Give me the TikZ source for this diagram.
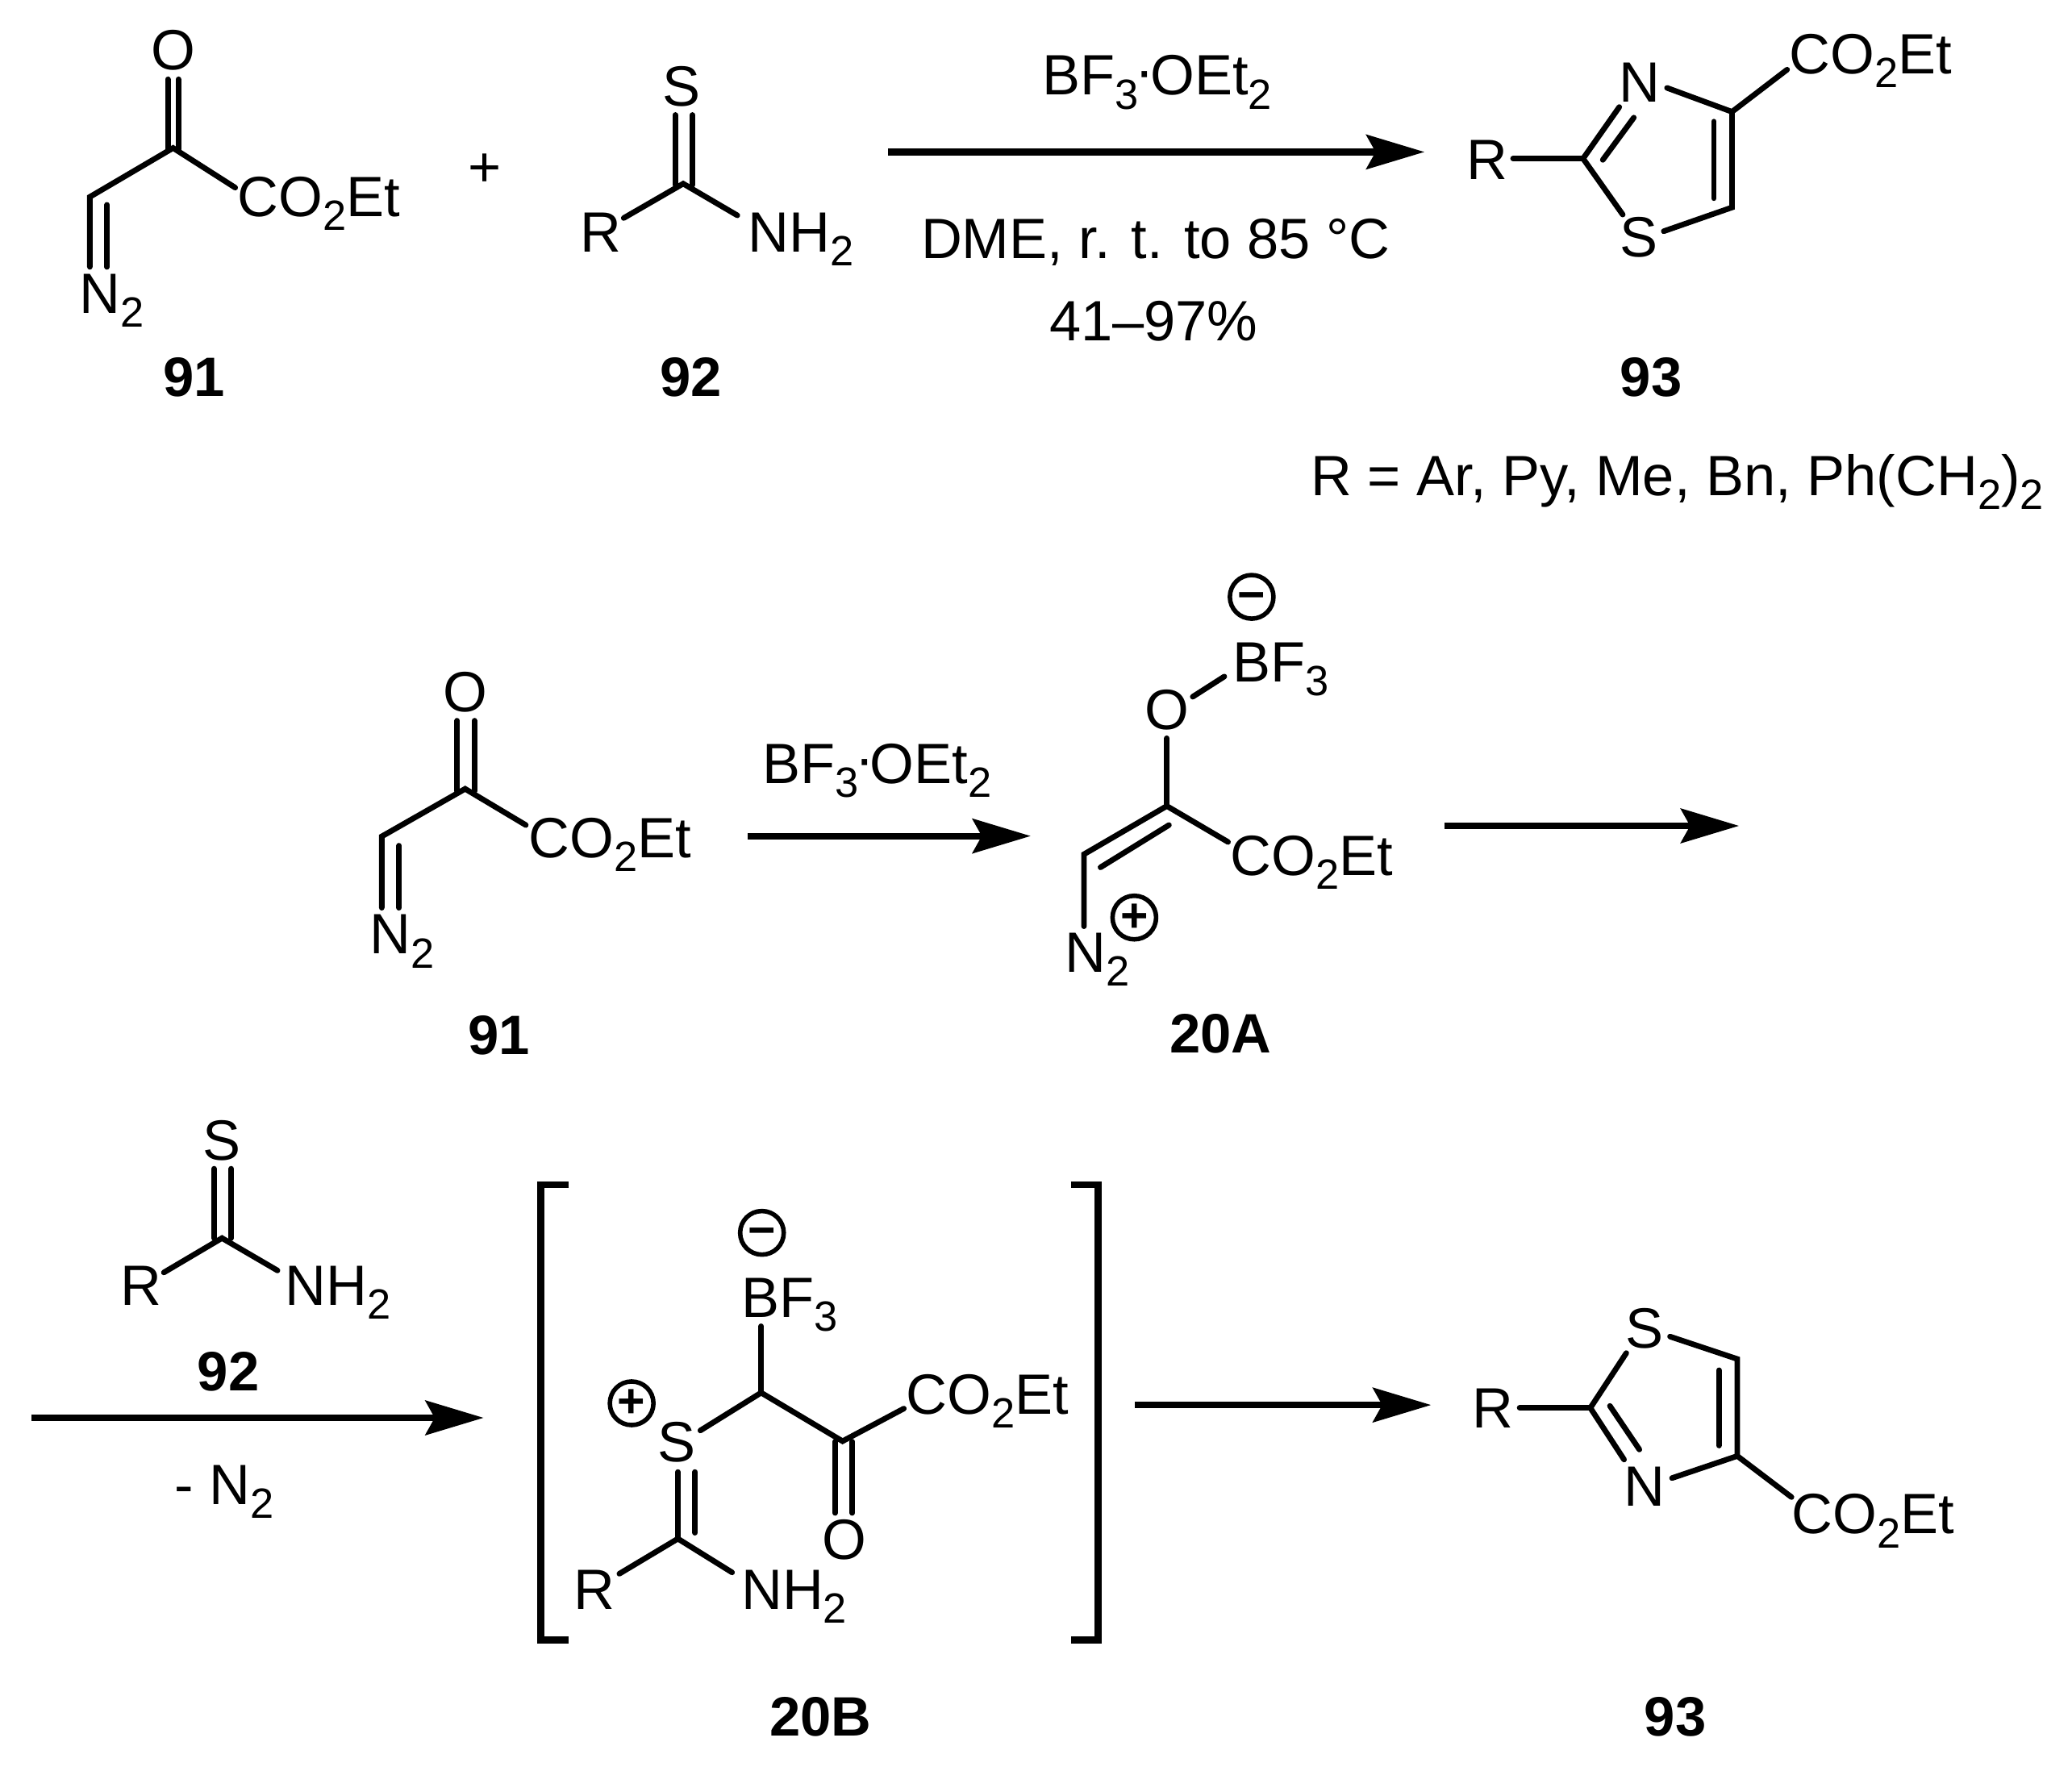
\documentclass[tikz,border=0pt]{standalone}
\usepackage{fontspec}
\setmainfont{Liberation Sans}
\usetikzlibrary{arrows.meta}
\newcommand{\sbs}[1]{\raisebox{-10.5pt}{\fontsize{32}{32}\selectfont #1}}
\newcommand{\COEt}{CO\sbs{2}Et}
\newcommand{\BFO}{BF\sbs{3}\hspace{-2.5pt}\raisebox{4pt}{·}\hspace{-3pt}OEt\sbs{2}}
\tikzset{
  txt/.style={inner sep=0pt,outer sep=0pt,anchor=base west,font=\fontsize{43}{50}\selectfont},
  ctxt/.style={inner sep=0pt,outer sep=0pt,anchor=base,font=\fontsize{43}{50}\selectfont},
  lbl/.style={inner sep=0pt,outer sep=0pt,anchor=base,font=\fontsize{42}{50}\selectfont\bfseries},
  bond/.style={line width=4.2pt,line cap=round,line join=miter},
  bracket/.style={line width=5.4pt,line cap=butt,line join=miter},
  rxn/.style={line width=5pt,-{Stealth[length=44pt,width=26pt,inset=7pt]}},
  charge/.style={circle,draw,line width=3.4pt,minimum size=33pt,inner sep=0pt,outer sep=0pt,font=\fontsize{36}{36}\selectfont\bfseries}
}
\begin{document}
\begin{tikzpicture}[x=1pt,y=-1pt]
\useasboundingbox (0,0) rectangle (1568,1336.7);

% --- top reaction: 91
\node[ctxt] (t91O) at (131,53) {O};
\node[txt] (t91E) at (180,164) {\COEt};
\node[txt] (t91N) at (60,237) {N\sbs{2}};
\node[lbl] (t91L) at (147,300) {91};
\draw[bond] (127,60) -- (127,113) (135,60) -- (135,113);
\draw[bond] (178,142) -- (131,112) -- (68,149) -- (68,202);
\draw[bond] (81,155) -- (81,202);
\node[ctxt] (plus) at (367,141) {+};

% 92
\node[ctxt] (t92S) at (516,80) {S};
\node[txt] (t92R) at (439,190.5) {R};
\node[txt] (t92N) at (566,190.5) {NH\sbs{2}};
\node[lbl] (t92L) at (523,300) {92};
\draw[bond] (511,87) -- (511,140) (524,87) -- (524,140);
\draw[bond] (472,165) -- (517,139) -- (558,163);

% arrow 1
\coordinate (a1s) at (672,115);
\coordinate (a1e) at (1078,115);
\draw[rxn] (a1s) -- (a1e);
\node[txt] (c1) at (789,72) {\BFO};
\node[ctxt] (c2) at (874.5,195.5) {DME, r. t. to 85 °C};
\node[ctxt] (c3) at (873,258) {41–97\%};

% 93 top
\node[txt] (t93R) at (1110,136) {R};
\node[ctxt] (t93N) at (1240.5,77) {N};
\node[ctxt] (t93S) at (1240.5,194.5) {S};
\node[txt] (t93E) at (1354,56) {\COEt};
\node[lbl] (t93L) at (1249.5,300) {93};
\draw[bond] (1145,120) -- (1198,120);
\draw[bond] (1225.4,81) -- (1198,120) -- (1228,162.4);
\draw[bond] (1212.9,121) -- (1236.4,89);
\draw[bond] (1259,175) -- (1310.7,157) -- (1310.7,84.6) -- (1261.5,66.5);
\draw[bond] (1310.7,84.6) -- (1352.4,52.7);
\draw[bond] (1297,92) -- (1297,150);
\node[txt] (rdef) at (992,375) {R = Ar, Py, Me, Bn, Ph(CH\sbs{2})\sbs{2}};

% --- second row: 91
\node[ctxt] (m91O) at (352,538.7) {O};
\node[txt] (m91E) at (400,649) {\COEt};
\node[txt] (m91N) at (280,722) {N\sbs{2}};
\node[lbl] (m91L) at (377.7,798) {91};
\draw[bond] (346,545.4) -- (346,598.6) (359,545.4) -- (359,598.6);
\draw[bond] (397.9,624.4) -- (352,597) -- (288.9,633) -- (288.9,687);
\draw[bond] (302,640) -- (302,687);

\coordinate (a2s) at (566,632.7);
\coordinate (a2e) at (780,632.7);
\draw[rxn] (a2s) -- (a2e);
\node[txt] (c4) at (577,592.8) {\BFO};

% 20A
\node[charge] (mMinus) at (947.2,451.7) {\vphantom{+}−};
\node[txt] (aB) at (933,516) {BF\sbs{3}};
\node[ctxt] (aO) at (883,552) {O};
\node[txt] (aE) at (931,662.5) {\COEt};
\node[txt] (aN) at (806,735.7) {N\sbs{2}};
\node[charge] (aPlus) at (858.4,694.4) {+};
\node[lbl] (aL) at (923.8,797) {20A};
\draw[bond] (902.6,527.3) -- (926.5,512);
\draw[bond] (883,558.7) -- (883,610);
\draw[bond] (929.3,637.2) -- (883,610) -- (820.3,646.5) -- (820.3,701);
\draw[bond] (884.6,624.4) -- (832.8,656.4);

\coordinate (a3s) at (1093,625);
\coordinate (a3e) at (1316,625);
\draw[rxn] (a3s) -- (a3e);

% --- third row: 92
\node[ctxt] (b92S) at (168,878) {S};
\node[txt] (b92R) at (91,988) {R};
\node[txt] (b92N) at (216,988) {NH\sbs{2}};
\node[lbl] (b92L) at (172.8,1052.5) {92};
\draw[bond] (162,884.5) -- (162,937) (175,884.5) -- (175,937);
\draw[bond] (124,963) -- (168,937) -- (210,961.5);

\coordinate (a4s) at (24,1073);
\coordinate (a4e) at (366,1073);
\draw[rxn] (a4s) -- (a4e);
\node[txt] (c5) at (132,1138.5) {- N\sbs{2}};

% brackets
\draw[bracket] (430.5,896.6) -- (409,896.6) -- (409,1241) -- (430.5,1241);
\draw[bracket] (810.5,896.6) -- (831,896.6) -- (831,1241) -- (810.5,1241);

% 20B
\node[charge] (bMinus) at (576.6,933) {\vphantom{+}−};
\node[txt] (bB) at (561,997) {BF\sbs{3}};
\node[charge] (bPlus) at (478,1062) {+};
\node[ctxt] (bS) at (512.3,1106) {S};
\node[txt] (bE) at (686,1070) {\COEt};
\node[ctxt] (bO) at (638.7,1180) {O};
\node[txt] (bR) at (434,1218) {R};
\node[txt] (bN) at (561,1218) {NH\sbs{2}};
\node[lbl] (bL) at (621,1314) {20B};
\draw[bond] (576,1003.7) -- (576,1054);
\draw[bond] (530,1082.6) -- (576,1054) -- (637.6,1090.7) -- (684,1066);
\draw[bond] (632,1091) -- (632,1145) (645,1091) -- (645,1145);
\draw[bond] (513,1114) -- (513,1164.5) (526,1114) -- (526,1160);
\draw[bond] (468.7,1191) -- (513,1164.5) -- (554,1190);

\coordinate (a5s) at (859,1063.3);
\coordinate (a5e) at (1083,1063.3);
\draw[rxn] (a5s) -- (a5e);

% 93 bottom
\node[txt] (c93R) at (1114,1080.8) {R};
\node[ctxt] (c93S) at (1244.5,1020) {S};
\node[ctxt] (c93N) at (1244.5,1139.7) {N};
\node[txt] (c93E) at (1356,1160.8) {\COEt};
\node[lbl] (c93L) at (1267.8,1313.5) {93};
\draw[bond] (1150,1065.5) -- (1203.5,1065.5);
\draw[bond] (1230.7,1024) -- (1203.5,1065.5) -- (1229,1104.6);
\draw[bond] (1218.3,1064) -- (1240.6,1097);
\draw[bond] (1263.8,1011.5) -- (1314.7,1028.5) -- (1314.7,1101.9) -- (1265.3,1118.6);
\draw[bond] (1314.7,1101.9) -- (1355.7,1133);
\draw[bond] (1300.8,1037) -- (1300.8,1094);
\end{tikzpicture}
\end{document}
